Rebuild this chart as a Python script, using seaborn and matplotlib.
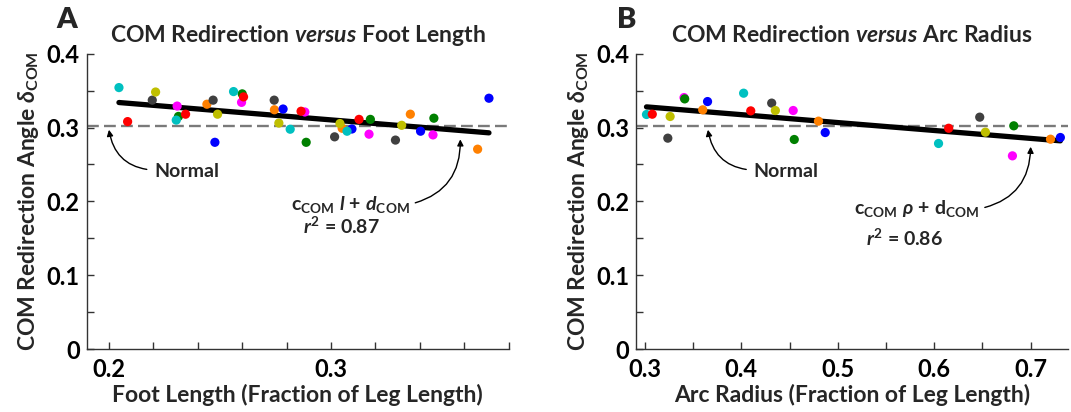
import numpy as np
import pandas as pd
import matplotlib
matplotlib.use("Agg")
import matplotlib.pyplot as plt
import seaborn as sns

# ---------------- data ----------------
subjects = ["S1", "S2", "S3", "S4", "S5", "S6", "S7", "S8"]
subject_colors = ["#00c0c0", "#ff0000", "#404040", "#bfbf00", "#ff00ff", "#008000", "#ff8000", "#0000ff"]

# Panel A: foot length vs redirection angle (5 per subject)
foot_subject = ["S1", "S2", "S3", "S4", "S5", "S6", "S7", "S8"] * 5
foot_length = [0.2045, 0.2084, 0.2195, 0.2210, 0.2307, 0.2313, 0.2441, 0.2477,
               0.2303, 0.2345, 0.2469, 0.2489, 0.2597, 0.2600, 0.2745, 0.2784,
               0.2561, 0.2606, 0.2744, 0.2765, 0.2882, 0.2888, 0.3050, 0.3094,
               0.2816, 0.2865, 0.3016, 0.3040, 0.3171, 0.3177, 0.3357, 0.3403,
               0.3072, 0.3126, 0.3290, 0.3318, 0.3459, 0.3463, 0.3660, 0.3711]
foot_angle = [0.354, 0.308, 0.337, 0.348, 0.329, 0.315, 0.3315, 0.280,
              0.310, 0.318, 0.337, 0.318, 0.334, 0.3455, 0.324, 0.325,
              0.3486, 0.3414, 0.337, 0.306, 0.321, 0.280, 0.299, 0.298,
              0.2977, 0.322, 0.2874, 0.3054, 0.291, 0.311, 0.318, 0.295,
              0.295, 0.311, 0.283, 0.303, 0.290, 0.3126, 0.2707, 0.3396]
fit_a_x = [0.2045, 0.3711]
fit_a_y = [0.3338, 0.2928]

# Panel B: arc radius vs redirection angle (3 per subject)
arc_subject = ["S1", "S2", "S3", "S4", "S5", "S6", "S7", "S8"] * 3
arc_radius = [0.3017, 0.3077, 0.3238, 0.3262, 0.3406, 0.3413, 0.3600, 0.3650,
              0.4024, 0.4098, 0.4315, 0.4353, 0.4538, 0.4549, 0.4800, 0.4870,
              0.6045, 0.6150, 0.6472, 0.6531, 0.6811, 0.6825, 0.7206, 0.7308]
arc_angle = [0.3176, 0.318, 0.2856, 0.3149, 0.3405, 0.3387, 0.3239, 0.3351,
             0.3464, 0.3225, 0.333, 0.323, 0.323, 0.2838, 0.3086, 0.2932,
             0.2784, 0.299, 0.314, 0.2937, 0.2617, 0.3023, 0.2842, 0.2865]
fit_b_x = [0.3017, 0.7308]
fit_b_y = [0.3279, 0.2820]

normal_angle = 0.3027

yticks = [0, 0.05, 0.1, 0.15, 0.2, 0.25, 0.3, 0.35, 0.4]
yticklabels = ["0", "", "0.1", "", "0.2", "", "0.3", "", "0.4"]
xticks_a = [0.2, 0.22, 0.24, 0.26, 0.28, 0.3, 0.32, 0.34, 0.36, 0.38]
xticklabels_a = ["0.2", "", "", "", "", "0.3", "", "", "", ""]
xticks_b = [0.3, 0.35, 0.4, 0.45, 0.5, 0.55, 0.6, 0.65, 0.7]
xticklabels_b = ["0.3", "", "0.4", "", "0.5", "", "0.6", "", "0.7"]

# ---------------- style ----------------
sns.set_theme(style="ticks")
plt.rcParams["font.family"] = ["Lato", "DejaVu Sans"]
plt.rcParams["font.weight"] = "bold"
plt.rcParams["mathtext.fontset"] = "custom"
plt.rcParams["mathtext.rm"] = "Lato:bold"
plt.rcParams["mathtext.it"] = "Lato:italic:bold"
plt.rcParams["mathtext.bf"] = "Lato:bold"
plt.rcParams["mathtext.sf"] = "DejaVu Sans:bold"
plt.rcParams["mathtext.fallback"] = "stixsans"

df_a = pd.DataFrame({"x": foot_length, "y": foot_angle, "subject": foot_subject})
df_b = pd.DataFrame({"x": arc_radius, "y": arc_angle, "subject": arc_subject})
palette = dict(zip(subjects, subject_colors))

fig = plt.figure(figsize=(10.71, 4.12), dpi=100)
ax_a = fig.add_axes([0.081, 0.152, 0.394, 0.718])
ax_b = fig.add_axes([0.594, 0.152, 0.403, 0.718])

spine_col = "#333333"
tick_fs = 17
label_fs = 16.5
title_fs = 16.5
ann_fs = 14


def style_axes(ax, xlim, xticks, xticklabels, xlabel, title):
    ax.set_xlim(*xlim)
    ax.set_ylim(0, 0.4)
    ax.set_yticks(yticks)
    ax.set_yticklabels(yticklabels)
    ax.set_xticks(xticks)
    ax.set_xticklabels(xticklabels)
    for s in ["top", "right"]:
        ax.spines[s].set_visible(False)
    for s in ["left", "bottom"]:
        ax.spines[s].set_color(spine_col)
        ax.spines[s].set_linewidth(1.0)
    ax.tick_params(direction="in", length=5, width=1, color=spine_col,
                   labelsize=tick_fs, labelcolor="black")
    ax.tick_params(axis="x", pad=6)
    ax.tick_params(axis="y", pad=5)
    for lab in ax.get_xticklabels() + ax.get_yticklabels():
        lab.set_fontweight("bold")
    ax.set_xlabel(xlabel, fontsize=label_fs, fontweight="bold", labelpad=2)
    ax.set_ylabel(r"COM Redirection Angle $\delta_{\rm COM}$", fontsize=label_fs,
                  fontweight="bold", labelpad=4)
    ax.set_title(title, fontsize=title_fs, fontweight="bold", pad=8)
    ax.set_facecolor("white")


for ax, df, fx, fy in [(ax_a, df_a, fit_a_x, fit_a_y), (ax_b, df_b, fit_b_x, fit_b_y)]:
    ax.axhline(normal_angle, color="#7a7a7a", lw=1.7, dashes=(5, 2.2), zorder=1)
    sns.scatterplot(data=df, x="x", y="y", hue="subject", palette=palette,
                    s=44, edgecolor="none", linewidth=0, legend=False, ax=ax, zorder=3)
    sns.lineplot(x=fx, y=fy, color="black", lw=3.8, ax=ax, zorder=2)

style_axes(ax_a, (0.19, 0.38), xticks_a, xticklabels_a,
           "Foot Length (Fraction of Leg Length)",
           r"COM Redirection $\mathit{versus}$ Foot Length")
style_axes(ax_b, (0.291, 0.7385), xticks_b, xticklabels_b,
           "Arc Radius (Fraction of Leg Length)",
           r"COM Redirection $\mathit{versus}$ Arc Radius")

arrow_kw = dict(arrowstyle="-|>", color="black", lw=1.0, mutation_scale=9)

# Panel A annotations
ax_a.annotate("Normal", xy=(0.2, 0.297), xytext=(0.235, 0.240),
              ha="center", va="center", fontsize=ann_fs, fontweight="bold",
              arrowprops=dict(connectionstyle="arc3,rad=-0.4", relpos=(0, 0.6),
                              shrinkA=3, shrinkB=0, **arrow_kw))
ax_a.annotate(r"$\mathrm{c}_{\rm COM}\ \mathit{l}\ \mathrm{+}\ d_{\rm COM}$",
              xy=(0.3582, 0.284), xytext=(0.3085, 0.196),
              ha="center", va="center", fontsize=ann_fs,
              arrowprops=dict(connectionstyle="arc3,rad=0.4", relpos=(1, 0.5),
                              shrinkA=2, shrinkB=0, **arrow_kw))
ax_a.text(0.3045, 0.166, r"$r^{2}$ = 0.87", ha="center", va="center", fontsize=ann_fs)

# Panel B annotations
ax_b.annotate("Normal", xy=(0.3654, 0.297), xytext=(0.4465, 0.240),
              ha="center", va="center", fontsize=ann_fs, fontweight="bold",
              arrowprops=dict(connectionstyle="arc3,rad=-0.4", relpos=(0, 0.6),
                              shrinkA=3, shrinkB=0, **arrow_kw))
ax_b.annotate(r"$\mathrm{c}_{\rm COM}\ \rho\ \mathrm{+}\ \mathrm{d}_{\rm COM}$",
              xy=(0.700, 0.274), xytext=(0.5814, 0.190),
              ha="center", va="center", fontsize=ann_fs,
              arrowprops=dict(connectionstyle="arc3,rad=0.4", relpos=(1, 0.5),
                              shrinkA=2, shrinkB=0, **arrow_kw))
ax_b.text(0.569, 0.151, r"$r^{2}$ = 0.86", ha="center", va="center", fontsize=ann_fs)

# Panel letters
fig.text(0.062, 0.952, "A", fontsize=21, fontweight="heavy", ha="center", va="center")
fig.text(0.585, 0.952, "B", fontsize=21, fontweight="heavy", ha="center", va="center")

fig.savefig("out.png", dpi=100, facecolor="white")
